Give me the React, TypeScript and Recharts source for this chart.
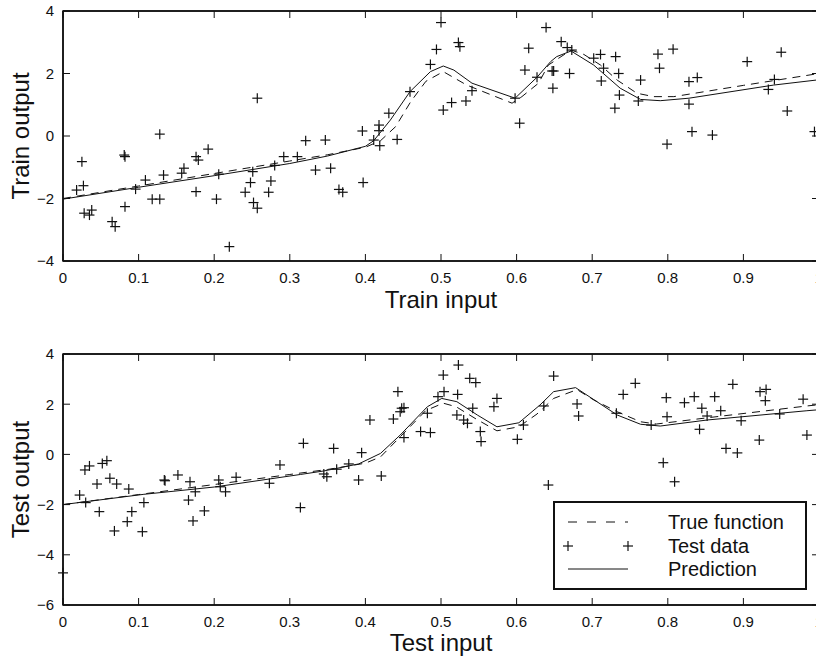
import React from 'react'
import { ComposedChart, Scatter, Line, XAxis, YAxis, Legend } from 'recharts'

// tick positions
const xTicks = [0, 0.1, 0.2, 0.3, 0.4, 0.5, 0.6, 0.7, 0.8, 0.9, 1]
const trainYTicks = [-4, -2, 0, 2, 4]
const testYTicks = [-6, -4, -2, 0, 2, 4]

// training samples (input, output)
const trainData: [number, number][] = [
  [0.018, -1.73], [0.025, -0.82], [0.027, -1.59], [0.028, -2.47], [0.035, -2.53], [0.038, -2.37],
  [0.065, -2.74], [0.069, -2.9], [0.081, -0.61], [0.082, -0.66], [0.082, -2.26], [0.096, -1.7],
  [0.109, -1.41], [0.118, -2.02], [0.128, -2.02], [0.128, 0.06], [0.133, -1.25], [0.157, -1.19],
  [0.16, -1.03], [0.176, -0.66], [0.179, -0.77], [0.176, -1.78], [0.192, -0.42], [0.203, -2.02],
  [0.206, -1.22], [0.22, -3.54], [0.241, -1.8], [0.248, -1.49], [0.251, -1.14], [0.252, -2.13],
  [0.257, -2.31], [0.257, 1.21], [0.272, -1.8], [0.275, -1.44], [0.28, -0.94], [0.292, -0.66],
  [0.31, -0.66], [0.321, -0.15], [0.347, -0.13], [0.334, -1.09], [0.354, -1.03], [0.365, -1.71],
  [0.37, -1.8], [0.397, -1.49], [0.396, 0.16], [0.411, -0.13], [0.418, 0.35], [0.418, 0.17],
  [0.419, -0.31], [0.431, 0.73], [0.442, -0.11], [0.459, 1.42], [0.486, 2.29], [0.494, 2.77],
  [0.5, 3.63], [0.503, 0.83], [0.514, 1.07], [0.523, 2.99], [0.525, 2.86], [0.533, 1.12],
  [0.541, 1.45], [0.598, 1.21], [0.604, 0.41], [0.611, 2.11], [0.616, 2.81], [0.627, 1.88],
  [0.639, 3.47], [0.647, 2.08], [0.649, 2.08], [0.648, 1.53], [0.659, 3.02], [0.667, 2.83],
  [0.673, 2.75], [0.67, 2.0], [0.702, 2.49], [0.711, 2.61], [0.715, 2.17], [0.731, 2.54],
  [0.735, 2.0], [0.712, 1.76], [0.736, 1.31], [0.73, 0.89], [0.764, 1.79], [0.761, 1.12],
  [0.787, 2.62], [0.789, 2.17], [0.807, 2.78], [0.799, -0.26], [0.828, 1.74], [0.839, 1.87],
  [0.828, 1.02], [0.832, 0.14], [0.859, 0.03], [0.905, 2.38], [0.941, 1.81], [0.933, 1.49],
  [0.95, 2.68], [0.958, 0.8], [0.994, 0.14],
]

// test samples
const testData: [number, number][] = [
  [0, -4.72], [0.022, -1.62], [0.03, -1.92], [0.029, -0.62], [0.035, -0.46], [0.045, -1.18],
  [0.048, -2.28], [0.052, -0.36], [0.058, -0.25], [0.062, -0.95], [0.071, -1.18], [0.068, -3.05],
  [0.087, -1.38], [0.085, -2.68], [0.091, -2.28], [0.105, -3.08], [0.107, -1.92], [0.134, -1.02],
  [0.135, -1.05], [0.152, -0.82], [0.168, -1.09], [0.166, -1.82], [0.175, -1.49], [0.172, -2.65],
  [0.187, -2.25], [0.206, -1.02], [0.208, -1.29], [0.215, -1.49], [0.229, -0.91], [0.273, -1.15],
  [0.287, -0.42], [0.318, 0.44], [0.314, -2.12], [0.358, 0.24], [0.345, -0.78], [0.349, -0.89],
  [0.362, -0.59], [0.378, -0.38], [0.395, 0.07], [0.391, -1.02], [0.421, -0.86], [0.406, 1.37],
  [0.437, 1.41], [0.443, 2.5], [0.446, 1.7], [0.448, 1.84], [0.451, 1.86], [0.451, 0.67],
  [0.473, 0.91], [0.486, 0.87], [0.482, 1.64], [0.496, 2.3], [0.503, 3.16], [0.504, 2.5],
  [0.523, 3.56], [0.538, 3.03], [0.546, 2.86], [0.522, 2.39], [0.521, 1.57], [0.53, 1.37],
  [0.535, 1.24], [0.542, 1.84], [0.552, 0.91], [0.553, 0.51], [0.57, 1.9], [0.574, 2.23],
  [0.601, 0.6], [0.609, 1.17], [0.636, 1.93], [0.642, -1.22], [0.649, 3.12], [0.68, 2.01],
  [0.682, 1.53], [0.732, 1.64], [0.741, 2.39], [0.757, 2.83], [0.778, 1.17], [0.794, -0.33],
  [0.798, 2.26], [0.799, 1.5], [0.809, -1.09], [0.822, 2.06], [0.835, 2.3], [0.845, 1.84],
  [0.852, 1.53], [0.842, 1.0], [0.862, 2.3], [0.87, 1.74], [0.877, 0.24], [0.892, 0.06],
  [0.886, 2.79], [0.897, 1.34], [0.921, 0.57], [0.922, 2.5], [0.93, 2.59], [0.929, 2.14],
  [0.948, 1.61], [0.979, 2.2], [0.984, 0.77],
]

// true function as drawn in each panel
const trueTrain: [number, number][] = [
  [0, -2.0], [0.1, -1.6], [0.2, -1.2], [0.3, -0.8], [0.35, -0.6], [0.4, -0.36], [0.42, -0.15],
  [0.44, 0.3], [0.46, 1.1], [0.48, 1.75], [0.503, 2.06], [0.534, 1.63], [0.594, 1.05],
  [0.607, 1.26], [0.629, 1.69], [0.642, 2.27], [0.672, 2.75], [0.689, 2.61], [0.711, 2.27],
  [0.733, 1.79], [0.759, 1.37], [0.781, 1.26], [0.808, 1.26], [0.9, 1.62], [1.0, 2.0],
]
const trueTest: [number, number][] = [
  [0, -2.0], [0.1, -1.6], [0.2, -1.2], [0.3, -0.8], [0.35, -0.6], [0.4, -0.35], [0.42, -0.1],
  [0.446, 0.7], [0.48, 1.75], [0.503, 2.04], [0.52, 1.9], [0.547, 1.4], [0.574, 0.94],
  [0.603, 1.1], [0.627, 1.61], [0.649, 2.23], [0.68, 2.58], [0.702, 2.17], [0.733, 1.7],
  [0.764, 1.3], [0.785, 1.21], [0.85, 1.45], [0.984, 1.93], [1.0, 1.98],
]

// model prediction
const predTrain: [number, number][] = [
  [0, -2.02], [0.1, -1.64], [0.2, -1.27], [0.3, -0.88], [0.35, -0.64], [0.4, -0.33], [0.411, -0.15],
  [0.433, 0.51], [0.459, 1.42], [0.486, 2.06], [0.503, 2.24], [0.517, 2.11], [0.541, 1.69],
  [0.598, 1.21], [0.627, 1.88], [0.645, 2.38], [0.653, 2.54], [0.672, 2.72], [0.702, 2.27],
  [0.737, 1.53], [0.764, 1.17], [0.79, 1.13], [0.828, 1.21], [0.94, 1.63], [1.0, 1.8],
]
const predTest: [number, number][] = [
  [0, -2.0], [0.107, -1.59], [0.2, -1.3], [0.314, -0.8], [0.345, -0.66], [0.391, -0.38],
  [0.42, 0.04], [0.446, 0.77], [0.482, 1.9], [0.501, 2.23], [0.521, 2.1], [0.548, 1.57],
  [0.574, 1.1], [0.603, 1.26], [0.631, 1.97], [0.649, 2.5], [0.678, 2.66], [0.733, 1.57],
  [0.764, 1.2], [0.79, 1.13], [0.852, 1.37], [0.984, 1.74], [1.0, 1.78],
]

const toPts = (pairs: [number, number][]) => pairs.map(([x, y]) => ({ x, y }))

const fmtY = (v: number) => (v < 0 ? `\u2212${Math.abs(v)}` : `${v}`)

const TICK = 7
const INK = '#111'
const CHART_W = 840
const LEFT_MARGIN = 13
const Y_AXIS_W = 50
const RIGHT_AXIS_W = 21
const PLOT_LEFT = LEFT_MARGIN + Y_AXIS_W
const PLOT_W = CHART_W - PLOT_LEFT - RIGHT_AXIS_W

const PlusMark = (props: any) => {
  const { cx, cy } = props
  if (cx == null || cy == null) return null
  return (
    <g stroke={INK} strokeWidth={1.2}>
      <line x1={cx - 5} x2={cx + 5} y1={cy} y2={cy} />
      <line x1={cx} x2={cx} y1={cy - 5} y2={cy + 5} />
    </g>
  )
}

const BottomTick = (props: any) => {
  const { x, y, payload } = props
  return (
    <text x={x} y={y + 11} dy="0.71em" textAnchor="middle" fontSize={15} fill={INK}>
      {payload.value}
    </text>
  )
}
const LeftTick = (props: any) => {
  const { x, y, payload } = props
  return (
    <text x={x - 9} y={y} dy="0.36em" textAnchor="end" fontSize={15} fill={INK}>
      {fmtY(payload.value)}
    </text>
  )
}

// matlab style box with inward ticks on all four sides, laid over the plot area
function Frame(props: { height: number; top: number; bottom: number; lo: number; hi: number; yTicks: number[]; yLabel: string }) {
  const { top, bottom, lo, hi } = props
  const sx = (t: number) => PLOT_LEFT + t * PLOT_W
  const sy = (v: number) => top + ((hi - v) / (hi - lo)) * (bottom - top)
  return (
    <svg
      width={CHART_W}
      height={props.height}
      style={{ position: 'absolute', left: 0, top: 0, pointerEvents: 'none', overflow: 'visible' }}
    >
      <rect x={PLOT_LEFT} y={top} width={PLOT_W} height={bottom - top} fill="none" stroke={INK} strokeWidth={1.5} />
      {xTicks.map((t) => (
        <g key={`x${t}`} stroke={INK} strokeWidth={1}>
          <line x1={sx(t)} x2={sx(t)} y1={bottom} y2={bottom - TICK} />
          <line x1={sx(t)} x2={sx(t)} y1={top} y2={top + TICK} />
        </g>
      ))}
      {props.yTicks.map((v) => (
        <g key={`y${v}`} stroke={INK} strokeWidth={1}>
          <line x1={PLOT_LEFT} x2={PLOT_LEFT + TICK} y1={sy(v)} y2={sy(v)} />
          <line x1={PLOT_LEFT + PLOT_W} x2={PLOT_LEFT + PLOT_W - TICK} y1={sy(v)} y2={sy(v)} />
        </g>
      ))}
      <text
        transform={`translate(29,${(top + bottom) / 2}) rotate(-90)`}
        textAnchor="middle"
        fontSize={24}
        fill={INK}
        stroke="none"
      >
        {props.yLabel}
      </text>
    </svg>
  )
}

function LegendBox() {
  return (
    <svg width={254} height={89} style={{ display: 'block' }}>
      <rect x={1} y={1} width={252} height={87} fill="#fff" stroke={INK} strokeWidth={2} />
      <line x1={15} x2={75} y1={21} y2={21} stroke={INK} strokeDasharray="9 10" />
      <PlusMark cx={15} cy={45} />
      <PlusMark cx={75} cy={45} />
      <line x1={15} x2={75} y1={68} y2={68} stroke={INK} />
      <g fontSize={20} fill={INK}>
        <text x={115} y={28}>True function</text>
        <text x={115} y={52}>Test data</text>
        <text x={115} y={75}>Prediction</text>
      </g>
    </svg>
  )
}

function Panel(props: {
  height: number
  topAxis: number
  bottomAxis: number
  bottomMargin: number
  yTicks: number[]
  points: [number, number][]
  truth: [number, number][]
  pred: [number, number][]
  xTitle: string
  yLabel: string
  titleOffset: number
  legend?: boolean
}) {
  const lo = props.yTicks[0]
  const hi = props.yTicks[props.yTicks.length - 1]
  const plotBottom = props.height - props.bottomMargin - props.bottomAxis
  return (
    <div style={{ position: 'relative', width: CHART_W, height: props.height }}>
      <ComposedChart
        width={CHART_W}
        height={props.height}
        margin={{ top: 0, right: 0, bottom: props.bottomMargin, left: LEFT_MARGIN }}
      >
        <XAxis
          dataKey="x"
          type="number"
          domain={[0, 1]}
          ticks={xTicks}
          interval={0}
          height={props.bottomAxis}
          axisLine={{ stroke: INK, strokeWidth: 1.5 }}
          tickLine={false}
          tickSize={0}
          tickMargin={0}
          tick={BottomTick}
          label={{ value: props.xTitle, position: 'insideBottom', offset: props.titleOffset, fontSize: 24, fill: INK }}
        />
        <XAxis
          xAxisId="top"
          orientation="top"
          dataKey="x"
          type="number"
          domain={[0, 1]}
          ticks={xTicks}
          interval={0}
          height={props.topAxis}
          axisLine={{ stroke: INK, strokeWidth: 1.5 }}
          tickLine={false}
          tick={false}
        />
        <YAxis
          dataKey="y"
          type="number"
          domain={[lo, hi]}
          ticks={props.yTicks}
          interval={0}
          width={Y_AXIS_W}
          axisLine={{ stroke: INK, strokeWidth: 1.5 }}
          tickLine={false}
          tickSize={0}
          tickMargin={0}
          tick={LeftTick}
        />
        <YAxis
          yAxisId="right"
          orientation="right"
          dataKey="y"
          type="number"
          domain={[lo, hi]}
          ticks={props.yTicks}
          interval={0}
          width={RIGHT_AXIS_W}
          axisLine={{ stroke: INK, strokeWidth: 1.5 }}
          tickLine={false}
          tick={false}
        />
        {/* true function drawn on the mirrored (top/right) axes, same scale */}
        <Line
          xAxisId="top"
          yAxisId="right"
          data={toPts(props.truth)}
          dataKey="y"
          type="linear"
          stroke={INK}
          strokeWidth={1}
          strokeDasharray="8 6"
          dot={false}
          isAnimationActive={false}
        />
        <Line
          data={toPts(props.pred)}
          dataKey="y"
          type="linear"
          stroke={INK}
          strokeWidth={1}
          dot={false}
          isAnimationActive={false}
        />
        <Scatter data={toPts(props.points)} dataKey="y" shape={PlusMark} isAnimationActive={false} />
        {props.legend && (
          <Legend
            layout="vertical"
            align="center"
            verticalAlign="middle"
            wrapperStyle={{ position: 'absolute', left: 553, top: 171, width: 254, height: 89 }}
            content={() => <LegendBox />}
          />
        )}
      </ComposedChart>
      <Frame
        height={props.height}
        top={props.topAxis}
        bottom={plotBottom}
        lo={lo}
        hi={hi}
        yTicks={props.yTicks}
        yLabel={props.yLabel}
      />
    </div>
  )
}

export default function App() {
  return (
    <div
      style={{
        position: 'absolute',
        left: 0,
        top: 0,
        width: 816,
        height: 659,
        overflow: 'hidden',
        background: '#fff',
        fontFamily: '"Liberation Sans", Arial, Helvetica, sans-serif',
      }}
    >
      <Panel
        height={330}
        topAxis={11}
        bottomAxis={60}
        bottomMargin={9}
        yTicks={trainYTicks}
        points={trainData}
        truth={trueTrain}
        pred={predTrain}
        xTitle="Train input"
        yLabel="Train output"
        titleOffset={13}
      />
      <Panel
        height={329}
        topAxis={24}
        bottomAxis={50}
        bottomMargin={4}
        yTicks={testYTicks}
        points={testData}
        truth={trueTest}
        pred={predTest}
        xTitle="Test input"
        yLabel="Test output"
        titleOffset={4}
        legend
      />
    </div>
  )
}
